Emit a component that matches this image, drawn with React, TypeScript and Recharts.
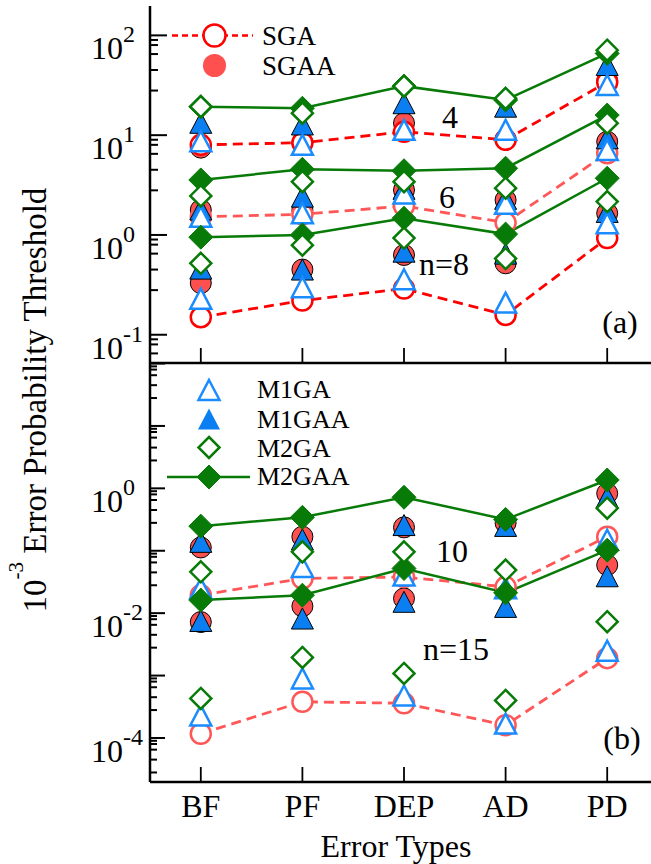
import React from 'react';
import { LineChart, Line, XAxis, YAxis } from 'recharts';

const FONT = '"Liberation Serif", "Times New Roman", Times, serif';

// ---------- categories ----------
const categories = ['BF', 'PF', 'DEP', 'AD', 'PD'];
const xTicks = [1, 2, 3, 4, 5];

// ---------- panel (a): n = 4, 6, 8 ----------
const sga4 = [8.0, 8.4, 10.8, 9.0, 34];
const sgaa4 = [7.5, 8.4, 13.2, 9.0, 35];
const m1ga4 = [8.7, 8.0, 11.3, 11.3, 31.8];
const m1gaa4 = [13.3, 12.8, 20.9, 19.3, 50.5];
const m2ga4 = [19.3, 16.6, 31, 23.4, 71];
const m2gaa4 = [19.3, 18.6, 31, 22.5, 66];

const sga6 = [1.52, 1.61, 1.95, 1.33, 6.6];
const sgaa6 = [1.78, 1.78, 2.82, 2.24, 8.6];
const m1ga6 = [1.52, 1.65, 2.6, 2.05, 7.1];
const m1gaa6 = [1.8, 2.42, 2.9, 2.3, 9.3];
const m2ga6 = [2.46, 3.42, 3.42, 2.94, 13.2];
const m2gaa6 = [3.56, 4.55, 4.4, 4.66, 15.9];

const sga8 = [0.15, 0.22, 0.29, 0.158, 0.93];
const sgaa8 = [0.33, 0.45, 0.63, 0.52, 1.65];
const m1ga8 = [0.23, 0.3, 0.36, 0.21, 1.31];
const m1gaa8 = [0.46, 0.45, 0.68, 0.65, 1.7];
const m2ga8 = [0.52, 0.79, 0.93, 0.58, 2.16];
const m2gaa8 = [0.95, 1.0, 1.47, 1.02, 3.7];

// ---------- panel (b): n = 10, 15 ----------
const sga10 = [0.0194, 0.036, 0.038, 0.0264, 0.168];
const sgaa10 = [0.113, 0.168, 0.237, 0.28, 0.83];
const m1ga10 = [0.025, 0.055, 0.04, 0.025, 0.15];
const m1gaa10 = [0.139, 0.152, 0.258, 0.25, 0.72];
const m2ga10 = [0.046, 0.096, 0.096, 0.049, 0.48];
const m2gaa10 = [0.248, 0.343, 0.72, 0.318, 1.36];

const sga15 = [0.000117, 0.00038, 0.00036, 0.00016, 0.0019];
const sgaa15 = [0.0072, 0.0129, 0.0172, 0.024, 0.059];
const m1ga15 = [0.00023, 0.0009, 0.00048, 0.00017, 0.0025];
const m1gaa15 = [0.0075, 0.0082, 0.0152, 0.0126, 0.039];
const m2ga15 = [0.00043, 0.00195, 0.00108, 0.0004, 0.0073];
const m2gaa15 = [0.0162, 0.0194, 0.052, 0.0212, 0.102];

// ---------- axes ----------
const topDomain: [number, number] = [0.0521, 197];
const botDomain: [number, number] = [0.0000197, 102];
const topMajors = [100, 10, 1, 0.1];
const botMajors = [100, 10, 1, 0.1, 0.01, 0.001, 0.0001];
const minorFactors = [0.9, 0.8, 0.65, 0.45, 0.28];
const topLabelled = [2, 1, 0, -1];
const botLabelled = [0, -2, -4];

// ---------- colours ----------
const RED = '#ff0000';
const RED_LIGHT = '#ff5757';
const RED_FILL = '#ff5050';
const BLUE = '#1a8cff';
const BLUE_FILL = '#0b7ff2';
const GREEN = '#077a07';

type Kind = 'circleOpen' | 'circleFilled' | 'triOpen' | 'triFilled' | 'diaOpen' | 'diaFilled';

interface Series {
  key: string;
  values: number[];
  kind: Kind;
  color: string;
  line?: 'dash' | 'solid';
}

const seriesTop: Series[] = [
  { key: 'sgaa4', values: sgaa4, kind: 'circleFilled', color: RED_FILL },
  { key: 'sgaa6', values: sgaa6, kind: 'circleFilled', color: RED_FILL },
  { key: 'sgaa8', values: sgaa8, kind: 'circleFilled', color: RED_FILL },
  { key: 'sga4', values: sga4, kind: 'circleOpen', color: RED, line: 'dash' },
  { key: 'sga6', values: sga6, kind: 'circleOpen', color: RED_LIGHT, line: 'dash' },
  { key: 'sga8', values: sga8, kind: 'circleOpen', color: RED, line: 'dash' },
  { key: 'm1gaa4', values: m1gaa4, kind: 'triFilled', color: BLUE_FILL },
  { key: 'm1gaa6', values: m1gaa6, kind: 'triFilled', color: BLUE_FILL },
  { key: 'm1gaa8', values: m1gaa8, kind: 'triFilled', color: BLUE_FILL },
  { key: 'm1ga4', values: m1ga4, kind: 'triOpen', color: BLUE },
  { key: 'm1ga6', values: m1ga6, kind: 'triOpen', color: BLUE },
  { key: 'm1ga8', values: m1ga8, kind: 'triOpen', color: BLUE },
  { key: 'm2gaa4', values: m2gaa4, kind: 'diaFilled', color: GREEN, line: 'solid' },
  { key: 'm2gaa6', values: m2gaa6, kind: 'diaFilled', color: GREEN, line: 'solid' },
  { key: 'm2gaa8', values: m2gaa8, kind: 'diaFilled', color: GREEN, line: 'solid' },
  { key: 'm2ga4', values: m2ga4, kind: 'diaOpen', color: GREEN },
  { key: 'm2ga6', values: m2ga6, kind: 'diaOpen', color: GREEN },
  { key: 'm2ga8', values: m2ga8, kind: 'diaOpen', color: GREEN },
];

const seriesBot: Series[] = [
  { key: 'sgaa10', values: sgaa10, kind: 'circleFilled', color: RED_FILL },
  { key: 'sgaa15', values: sgaa15, kind: 'circleFilled', color: RED_FILL },
  { key: 'sga10', values: sga10, kind: 'circleOpen', color: RED_LIGHT, line: 'dash' },
  { key: 'sga15', values: sga15, kind: 'circleOpen', color: RED_LIGHT, line: 'dash' },
  { key: 'm1gaa10', values: m1gaa10, kind: 'triFilled', color: BLUE_FILL },
  { key: 'm1gaa15', values: m1gaa15, kind: 'triFilled', color: BLUE_FILL },
  { key: 'm1ga10', values: m1ga10, kind: 'triOpen', color: BLUE },
  { key: 'm1ga15', values: m1ga15, kind: 'triOpen', color: BLUE },
  { key: 'm2gaa10', values: m2gaa10, kind: 'diaFilled', color: GREEN, line: 'solid' },
  { key: 'm2gaa15', values: m2gaa15, kind: 'diaFilled', color: GREEN, line: 'solid' },
  { key: 'm2ga10', values: m2ga10, kind: 'diaOpen', color: GREEN },
  { key: 'm2ga15', values: m2ga15, kind: 'diaOpen', color: GREEN },
];

const mk = (vals: number[]) => vals.map((v, i) => ({ x: xTicks[i], v }));

const buildTicks = (majors: number[], lo: number) => {
  const out: number[] = [];
  majors.forEach((m) => {
    out.push(m);
    minorFactors.forEach((f) => {
      const t = m * f;
      if (t >= lo) out.push(t);
    });
  });
  return out;
};
const topTicks = buildTicks(topMajors, topDomain[0]);
const botTicks = buildTicks(botMajors, botDomain[0]);

function Marker({ kind, cx, cy, color, s = 1, outline = true }: { kind: Kind; cx: number; cy: number; color: string; s?: number; outline?: boolean }) {
  switch (kind) {
    case 'circleOpen':
      return <circle cx={cx} cy={cy} r={10 * s} fill="#fff" stroke={color} strokeWidth={2.5} />;
    case 'circleFilled':
      return <circle cx={cx} cy={cy} r={10.5 * s} fill={color} stroke={outline ? '#000' : 'none'} strokeWidth={1} />;
    case 'triOpen': {
      const w = 10.5 * s, h = 10 * s;
      return <polygon points={`${cx},${cy - h} ${cx + w},${cy + h} ${cx - w},${cy + h}`} fill="#fff" stroke={color} strokeWidth={2.5} strokeLinejoin="miter" />;
    }
    case 'triFilled': {
      const w = 11 * s, h = 10.5 * s;
      return <polygon points={`${cx},${cy - h} ${cx + w},${cy + h} ${cx - w},${cy + h}`} fill={color} stroke={outline ? '#000' : 'none'} strokeWidth={1} />;
    }
    case 'diaOpen': {
      const r = 10.5 * s;
      return <polygon points={`${cx},${cy - r} ${cx + r},${cy} ${cx},${cy + r} ${cx - r},${cy}`} fill="#fff" stroke={color} strokeWidth={2.5} />;
    }
    case 'diaFilled': {
      const r = 12 * s;
      return <polygon points={`${cx},${cy - r} ${cx + r},${cy} ${cx},${cy + r} ${cx - r},${cy}`} fill={color} stroke={color} strokeWidth={1} />;
    }
  }
  return null;
}

const dotOf = (kind: Kind, color: string, key: string) => (p: any) => {
  if (p == null || p.cx == null || p.cy == null) return <g key={`${key}-e-${p?.index}`} />;
  return (
    <g key={`${key}-${p.index}`}>
      <Marker kind={kind} cx={p.cx} cy={p.cy} color={color} />
    </g>
  );
};

const makeYTick = (labelled: number[], majorLen: number, minorLen: number) => (props: any) => {
  const { x, y, payload } = props;
  const v = payload.value as number;
  const lg = Math.log10(v);
  const e = Math.round(lg);
  const isMajor = Math.abs(lg - e) < 1e-6;
  return (
    <g>
      <line x1={x} x2={x + (isMajor ? majorLen : minorLen)} y1={y} y2={y} stroke="#000" strokeWidth={2} />
      {isMajor && labelled.includes(e) && (
        <text x={x - 59} y={y + 24} fontSize={32} fontFamily={FONT} fill="#000" textAnchor="start">
          <tspan>10</tspan>
          <tspan dy={-17} fontSize={24}>{String(e)}</tspan>
        </text>
      )}
    </g>
  );
};

const makeXTick = (showLabel: boolean) => (props: any) => {
  const { x, y, payload } = props;
  return (
    <g>
      <line x1={x} x2={x} y1={y} y2={y - 15} stroke="#000" strokeWidth={1.8} />
      {showLabel && (
        <text x={x} y={y + 35} textAnchor="middle" fontSize={32} fontFamily={FONT} fill="#000">
          {categories[payload.value - 1]}
        </text>
      )}
    </g>
  );
};

const renderSeries = (list: Series[]) =>
  list.map((s) => (
    <Line
      key={s.key}
      data={mk(s.values)}
      dataKey="v"
      type="linear"
      stroke={s.line ? s.color : 'none'}
      strokeWidth={s.line === 'dash' ? 2.8 : 2.5}
      strokeDasharray={s.line === 'dash' ? '10 6' : undefined}
      dot={dotOf(s.kind, s.color, s.key)}
      activeDot={false}
      isAnimationActive={false}
      legendType="none"
    />
  ));

const axisLine = { stroke: '#000', strokeWidth: 2.5 };

export default function App() {
  return (
    <div style={{ position: 'absolute', left: 0, top: 0, width: 651, height: 864, overflow: 'hidden', background: '#fff' }}>
      <div style={{ position: 'absolute', left: 0, top: 0 }}>
        <LineChart width={660} height={365} margin={{ top: 6, right: 2, bottom: 0, left: 90 }}>
          <XAxis
            type="number"
            dataKey="x"
            domain={[0.5, 5.5]}
            ticks={xTicks}
            interval={0}
            tickSize={0}
            tickMargin={0}
            tickLine={false}
            height={2}
            axisLine={axisLine}
            tick={makeXTick(false)}
          />
          <XAxis
            xAxisId="t"
            orientation="top"
            type="number"
            dataKey="x"
            domain={[0.5, 5.5]}
            height={0}
            tick={false}
            tickLine={false}
            axisLine={axisLine}
          />
          <YAxis
            type="number"
            scale="log"
            domain={topDomain}
            allowDataOverflow
            ticks={topTicks}
            interval={0}
            tickSize={0}
            tickMargin={0}
            tickLine={false}
            width={60}
            axisLine={axisLine}
            tick={makeYTick(topLabelled, 17, 8)}
          />
          {renderSeries(seriesTop)}
        </LineChart>
      </div>
      <div style={{ position: 'absolute', left: 0, top: 357 }}>
        <LineChart width={660} height={507} margin={{ top: 6, right: 2, bottom: 0, left: 90 }}>
          <XAxis
            type="number"
            dataKey="x"
            domain={[0.5, 5.5]}
            ticks={xTicks}
            interval={0}
            tickSize={0}
            tickMargin={0}
            tickLine={false}
            height={82}
            axisLine={axisLine}
            tick={makeXTick(true)}
          />
          <YAxis
            type="number"
            scale="log"
            domain={botDomain}
            allowDataOverflow
            ticks={botTicks}
            interval={0}
            tickSize={0}
            tickMargin={0}
            tickLine={false}
            width={60}
            axisLine={axisLine}
            tick={makeYTick(botLabelled, 15, 7)}
          />
          {renderSeries(seriesBot)}
        </LineChart>
      </div>
      <svg width={651} height={864} style={{ position: 'absolute', left: 0, top: 0, pointerEvents: 'none' }} fontFamily={FONT}>
        {/* y-axis title */}
        <text transform="translate(46,400) rotate(-90)" textAnchor="middle" fontSize={33} fill="#000">
          <tspan>10</tspan>
          <tspan dy={-23} fontSize={21}>-3</tspan>
          <tspan dy={23}> Error Probability Threshold</tspan>
        </text>
        {/* x-axis title */}
        <text x={396} y={857} textAnchor="middle" fontSize={32} fill="#000">Error Types</text>

        {/* panel annotations */}
        <text x={450} y={128} textAnchor="middle" fontSize={32}>4</text>
        <text x={447} y={208} textAnchor="middle" fontSize={32}>6</text>
        <text x={444} y={275} textAnchor="middle" fontSize={32}>n=8</text>
        <text x={620} y={333} textAnchor="middle" fontSize={32}>(a)</text>
        <text x={452} y={562} textAnchor="middle" fontSize={32}>10</text>
        <text x={456} y={660} textAnchor="middle" fontSize={32}>n=15</text>
        <text x={622} y={749} textAnchor="middle" fontSize={32}>(b)</text>

        {/* legend (a) */}
        <line x1={172} x2={253} y1={35.5} y2={35.5} stroke={RED} strokeWidth={2.5} strokeDasharray="6 4" />
        <Marker kind="circleOpen" cx={214.5} cy={35.5} color={RED} s={1.1} />
        <text x={262} y={45} fontSize={27}>SGA</text>
        <Marker kind="circleFilled" cx={214.5} cy={65.5} color={RED_FILL} s={1.1} outline={false} />
        <text x={262} y={75} fontSize={27}>SGAA</text>

        {/* legend (b) */}
        <Marker kind="triOpen" cx={209} cy={390} color={BLUE} />
        <text x={257} y={398} fontSize={26}>M1GA</text>
        <Marker kind="triFilled" cx={209} cy={419} color={BLUE_FILL} outline={false} />
        <text x={257} y={428} fontSize={26}>M1GAA</text>
        <Marker kind="diaOpen" cx={209} cy={447.5} color={GREEN} />
        <text x={257} y={457} fontSize={26}>M2GA</text>
        <line x1={167} x2={250} y1={477} y2={477} stroke={GREEN} strokeWidth={2.5} />
        <Marker kind="diaFilled" cx={209} cy={477} color={GREEN} />
        <text x={257} y={485} fontSize={26}>M2GAA</text>
      </svg>
    </div>
  );
}
